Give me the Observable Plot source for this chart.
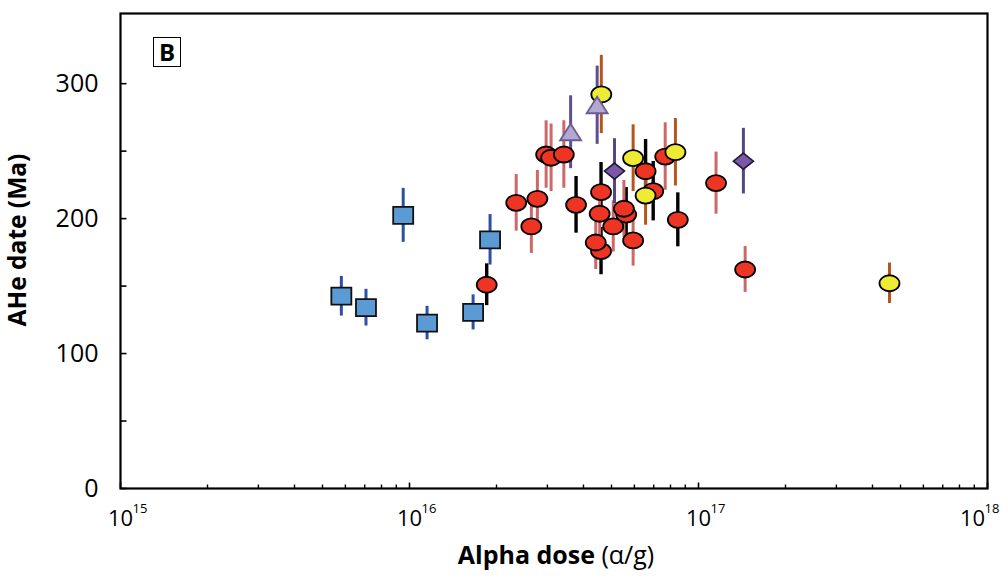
<!DOCTYPE html>
<html><head><meta charset="utf-8">
<script src="https://cdn.jsdelivr.net/npm/d3@7"></script>
<script src="https://cdn.jsdelivr.net/npm/@observablehq/plot@0.6"></script>
<style>
body{margin:0;background:#fff;}
#wrap{position:relative;width:1003px;height:582px;}
#wrap svg{font-family:"Open Sans",sans-serif;}
g[aria-label="marker"]{filter:drop-shadow(1.5px 2px 1.2px rgba(0,0,0,0.35));}
#blabel{position:absolute;left:153px;top:37px;width:26px;height:28px;border:1.6px solid #000;font:bold 24px "Open Sans",sans-serif;text-align:center;line-height:28px;color:#000;}
</style></head>
<body><div id="wrap"><div id="blabel">B</div></div>
<script>
// ---- data ----
const squareDose = [5.81e15, 7.07e15, 9.51e15, 1.15e16, 1.66e16, 1.90e16];
const squareAge  = [142.5, 134.0, 202.4, 122.6, 130.5, 184.3];
const squareErr  = [14.7, 13.6, 20, 12.4, 13, 18.7];

const redBlackDose = [1.85e16, 3.77e16, 4.60e16, 5.62e16, 4.60e16, 6.56e16, 6.97e16, 8.48e16];
const redBlackAge  = [151, 210.2, 219.6, 203, 175.9, 235.1, 220.3, 199.1];
const redBlackErr  = [15.5, 21, 22, 20, 17.5, 23.5, 22, 20];

const redPinkDose = [2.97e16, 3.09e16, 3.42e16, 2.34e16, 2.77e16, 2.64e16, 4.55e16, 5.52e16, 5.07e16, 4.41e16, 5.94e16, 7.67e16, 1.15e17, 1.45e17];
const redPinkAge  = [247.5, 245.1, 247.5, 211.7, 214.7, 194.2, 203.6, 207.3, 194.2, 182.3, 183.8, 246, 226.3, 162.3];
const redPinkErr  = [25, 25, 25, 21, 21, 20, 20, 21, 19, 20, 19, 25, 23, 17];

const yellowDose = [4.61e16, 5.94e16, 8.32e16, 6.56e16, 4.58e17];
const yellowAge  = [292, 244.8, 249.2, 217.1, 152.1];
const yellowErr  = [29, 24.7, 25, 22, 15];

const triDose = [3.61e16, 4.46e16];
const triAge  = [264, 284];
const triErr  = [27, 29];

const diaDose = [5.12e16, 1.43e17];
const diaAge  = [235.2, 242.6];
const diaErr  = [24, 24.3];

const yTicks = [0, 100, 200, 300];
const yMinorTicks = [50, 150, 250];
const xDecades = [1e15, 1e16, 1e17, 1e18];
const xTickExp = ["15", "16", "17", "18"];
const xTitle = "Alpha dose (α/g)";
const yTitle = "AHe date (Ma)";

// ---- helpers ----
const rows = (dose, age, err) => dose.map((d, i) => ({dose: d, age: age[i], err: err[i]}));
const squares = rows(squareDose, squareAge, squareErr);
const redBlack = rows(redBlackDose, redBlackAge, redBlackErr);
const redPink = rows(redPinkDose, redPinkAge, redPinkErr);
const yellow = rows(yellowDose, yellowAge, yellowErr);
const tris = rows(triDose, triAge, triErr);
const dias = rows(diaDose, diaAge, diaErr);
const xMinor = [];
for (const d of xDecades.slice(0, 3)) for (let k = 2; k <= 9; k++) xMinor.push(d * k);
const xLabels = xDecades.map((d, i) => ({d, exp: xTickExp[i]}));
const xLabelsInner = xLabels.slice(0, 3);
const xLabelsLast = xLabels.slice(3);

const K = 0.5523;
const ellipse = {draw(c){const rx=10, ry=8; c.moveTo(rx,0); c.bezierCurveTo(rx,ry*K,rx*K,ry,0,ry); c.bezierCurveTo(-rx*K,ry,-rx,ry*K,-rx,0); c.bezierCurveTo(-rx,-ry*K,-rx*K,-ry,0,-ry); c.bezierCurveTo(rx*K,-ry,rx,-ry*K,rx,0); c.closePath();}};
const square = {draw(c){c.moveTo(-10,-8.5); c.lineTo(10,-8.5); c.lineTo(10,8.5); c.lineTo(-10,8.5); c.closePath();}};
const triangle = {draw(c){c.moveTo(0,-8.5); c.lineTo(10.5,8); c.lineTo(-10.5,8); c.closePath();}};
const diamond = {draw(c){c.moveTo(0,-8); c.lineTo(10,0); c.lineTo(0,8); c.lineTo(-10,0); c.closePath();}};
const tickRight = {draw(c){c.moveTo(0,0); c.lineTo(6,0);}};
const tickUpMajor = {draw(c){c.moveTo(0,0); c.lineTo(0,-6);}};
const tickUpMinor = {draw(c){c.moveTo(0,0); c.lineTo(0,-4);}};

const bars = (data, color, w) => Plot.ruleX(data, {x: "dose", y1: d => d.age - d.err, y2: d => d.age + d.err, stroke: color, strokeWidth: w});
const markers = (data, symbol, fill, stroke, sw) => Plot.dot(data, {x: "dose", y: "age", symbol, fill, stroke, strokeWidth: sw, ariaLabel: "marker"});
const decadeLabels = (data, shift) => [
  Plot.text(data, {x: "d", text: () => "10", frameAnchor: "bottom", lineAnchor: "middle", textAnchor: "middle", dy: 30, dx: shift, fontSize: 22, fill: "black"}),
  Plot.text(data, {x: "d", text: "exp", frameAnchor: "bottom", lineAnchor: "middle", textAnchor: "start", dy: 20, dx: shift + 12, fontSize: 13, fill: "black"})
];

const plot = Plot.plot({
  width: 1003, height: 582,
  marginLeft: 120, marginRight: 16, marginTop: 13, marginBottom: 94,
  x: {type: "log", domain: [1e15, 1e18], axis: null},
  y: {domain: [0, 352], axis: null},
  style: {fontFamily: "'Open Sans', sans-serif", background: "white", overflow: "visible", color: "black"},
  marks: [
    // error bars
    bars(squares, "#2f4fa3", 3),
    bars(redBlack, "#000000", 3.4),
    bars(redPink, "#cd6868", 3),
    bars(yellow, "#b4561c", 3),
    bars(tris, "#5f4f92", 3),
    bars(dias, "#54487e", 3),
    // markers
    markers(squares, square, "#5b9bd5", "#111", 1.8),
    markers(redBlack, ellipse, "#ee3524", "#000", 1.8),
    markers(redPink, ellipse, "#ee3524", "#000", 1.8),
    markers(yellow, ellipse, "#efea33", "#000", 1.8),
    markers(tris, triangle, "#b3a8d0", "#6b5b95", 1.8),
    markers(dias, diamond, "#7b57a8", "#1f1838", 1.6),
    // axes ticks
    Plot.dot(yTicks.concat(yMinorTicks), {x: () => 1e15, y: d => d, symbol: tickRight, fill: "none", stroke: "black", strokeWidth: 1.6}),
    Plot.dot(xDecades, {x: d => d, y: () => 0, symbol: tickUpMajor, fill: "none", stroke: "black", strokeWidth: 1.6}),
    Plot.dot(xMinor, {x: d => d, y: () => 0, symbol: tickUpMinor, fill: "none", stroke: "black", strokeWidth: 1.4}),
    Plot.frame({stroke: "black", strokeWidth: 2.2}),
    // tick labels
    Plot.text(yTicks, {y: d => d, text: d => String(d), frameAnchor: "left", lineAnchor: "middle", dx: -22, textAnchor: "end", fontSize: 25, fill: "black"}),
    ...decadeLabels(xLabelsInner, 0),
    ...decadeLabels(xLabelsLast, -15),
    // titles
    Plot.text([xTitle], {text: d => d, frameAnchor: "bottom", lineAnchor: "middle", textAnchor: "middle", dy: 67, dx: 2, fontSize: 25, fontWeight: "bold", fill: "black"}),
    Plot.text([yTitle], {text: d => d, frameAnchor: "left", lineAnchor: "middle", textAnchor: "middle", rotate: -90, dx: -102, dy: -11, fontSize: 24.5, fontWeight: "bold", fill: "black"})
  ]
});

// mixed weight in x title
d3.select(plot).selectAll("text").filter(function(){ return this.textContent === xTitle; })
  .each(function(){
    const t = d3.select(this);
    t.text(null);
    t.append("tspan").attr("font-weight", "bold").text("Alpha dose ");
    t.append("tspan").attr("font-weight", "normal").text("(α/g)");
  });

document.getElementById("wrap").prepend(plot);
</script>
</body></html>
